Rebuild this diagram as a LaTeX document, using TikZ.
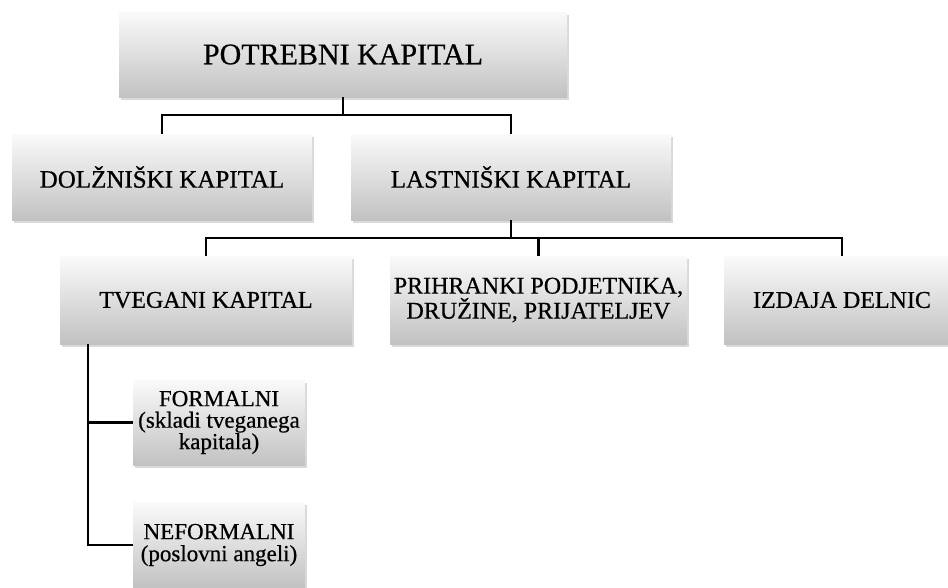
\documentclass[tikz,border=0pt]{standalone}
\usepackage{fontspec}
\setmainfont{Liberation Serif}[FakeBold=0.6]
\usetikzlibrary{positioning,shadows}

\begin{document}
\begin{tikzpicture}[x=1pt, y=-1pt,
    box/.style={rectangle, top color=black!2, bottom color=black!24, align=center, inner sep=1pt,
        drop shadow={shadow xshift=1.5pt, shadow yshift=-2.5pt, opacity=.3}},
    link/.style={line width=2.2pt}]
    \useasboundingbox (0,0) rectangle (948,587);

    % Top level
    \node [box, minimum width=448pt, minimum height=85pt, font=\fontsize{30}{30}\selectfont] (potrebni) at (343,54.5) {POTREBNI KAPITAL};

    % Debt and equity
    \node [box, minimum width=300pt, minimum height=86pt, font=\fontsize{25}{25}\selectfont] (dolzniski) at (162,177) {DOLŽNIŠKI KAPITAL};
    \node [box, minimum width=320pt, minimum height=86pt, font=\fontsize{25}{25}\selectfont] (lastniski) at (511,177) {LASTNIŠKI KAPITAL};

    % Equity sources
    \node [box, minimum width=292pt, minimum height=88pt, font=\fontsize{24}{25}\selectfont] (tvegani) at (206,300) {TVEGANI KAPITAL};
    \node [box, minimum width=297pt, minimum height=88pt, font=\fontsize{24}{25}\selectfont] (prihranki) at (538.5,300) {PRIHRANKI PODJETNIKA,\\DRUŽINE, PRIJATELJEV};
    \node [box, minimum width=236pt, minimum height=88pt, font=\fontsize{24}{25}\selectfont] (delnice) at (842,300) {IZDAJA DELNIC};

    % Venture capital kinds
    \node [box, minimum width=172pt, minimum height=85pt, font=\fontsize{23}{21.5}\selectfont] (formalni) at (219,422.5) {FORMALNI\\(skladi tveganega\\kapitala)};
    \node [box, minimum width=172pt, minimum height=85pt, font=\fontsize{23}{22}\selectfont] (neformalni) at (219,545) {NEFORMALNI\\(poslovni angeli)};

    % Connectors
    \draw [link] (potrebni.south) -- ++(0,18) -| (dolzniski.north);
    \draw [link] (potrebni.south) -- ++(0,18) -| (lastniski.north);
    \draw [link] (lastniski.south) -- ++(0,18) -| (tvegani.north);
    \draw [link] (lastniski.south) -- ++(0,18) -| (prihranki.north);
    \draw [link] (lastniski.south) -- ++(0,18) -| (delnice.north);
    \coordinate (tv) at ([xshift=28pt]tvegani.south west);
    \draw [link] (tv) |- (formalni.west);
    \draw [link] (tv) |- (neformalni.west);
\end{tikzpicture}
\end{document}
